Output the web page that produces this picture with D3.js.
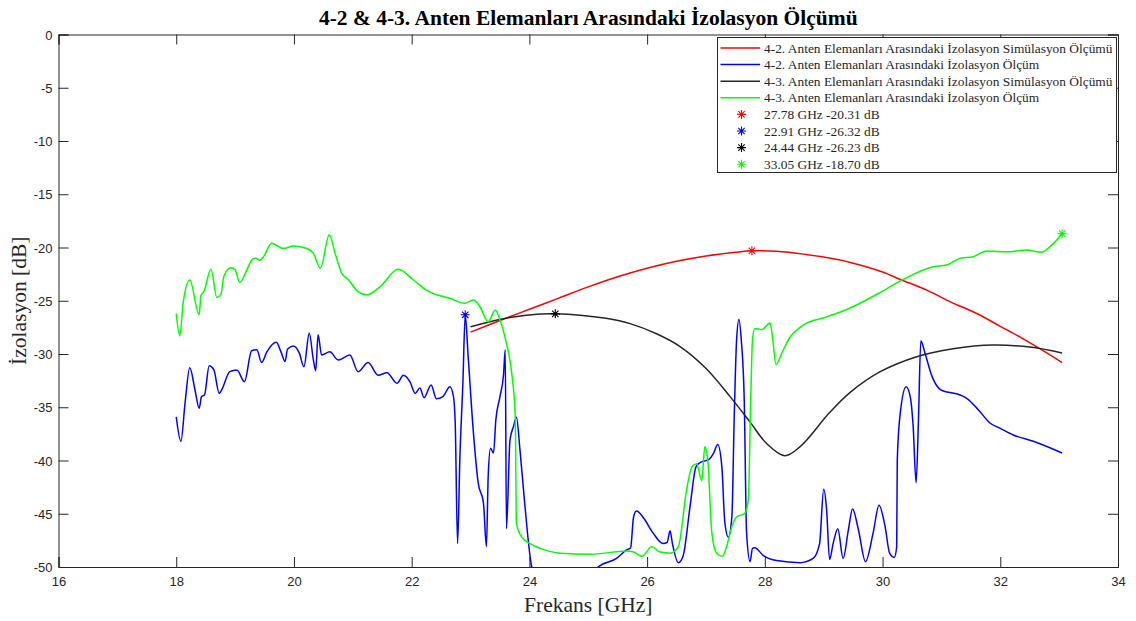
<!DOCTYPE html>
<html>
<head>
<meta charset="utf-8">
<script src="https://cdn.jsdelivr.net/npm/d3@7"></script>
<style>
  html, body { margin: 0; padding: 0; background: #fff; }
  svg { display: block; }
</style>
</head>
<body>
<svg id="chart" width="1136" height="621"></svg>
<script>
// 4-2 simulation (red)
const sim42Freq = [23.0, 23.5, 24.0, 24.5, 25.0, 25.5, 26.0, 26.5, 27.0, 27.5, 27.78, 28.2, 28.7, 29.0, 29.45, 30.0, 30.3, 30.75, 31.15, 31.6, 32.0, 32.3, 32.67, 33.05];
const sim42 = [-27.95, -26.85, -25.8, -24.75, -23.7, -22.75, -21.95, -21.3, -20.8, -20.45, -20.31, -20.35, -20.65, -20.9, -21.4, -22.3, -23.0, -24.0, -25.1, -26.2, -27.4, -28.3, -29.5, -30.8];

// 4-2 measurement (blue)
const meas42Freq = [18.00, 18.08, 18.15, 18.23, 18.32, 18.39, 18.43, 18.48, 18.56, 18.64, 18.73, 18.77, 18.91, 19.03, 19.16, 19.28, 19.37, 19.45, 19.54, 19.70, 19.78, 19.85, 19.89, 19.99, 20.09, 20.17, 20.26, 20.33, 20.37, 20.41, 20.47, 20.61, 20.75, 20.95, 21.09, 21.26, 21.43, 21.58, 21.75, 21.86, 21.97, 22.06, 22.14, 22.21, 22.33, 22.42, 22.53, 22.65, 22.71, 22.74, 22.78, 22.82, 22.87, 22.91, 22.96, 23.05, 23.13, 23.22, 23.27, 23.30, 23.34, 23.39, 23.43, 23.50, 23.56, 23.59, 23.61, 23.67, 23.73, 23.78, 23.84, 23.92, 24.04, 24.3, 24.7, 25.0, 25.17, 25.48, 25.65, 25.72, 25.77, 25.82, 25.94, 26.10, 26.27, 26.34, 26.39, 26.43, 26.53, 26.61, 26.73, 26.83, 26.90, 27.05, 27.13, 27.20, 27.27, 27.32, 27.38, 27.44, 27.48, 27.52, 27.56, 27.60, 27.65, 27.69, 27.75, 27.79, 27.83, 27.97, 28.20, 28.60, 28.82, 28.93, 29.00, 29.05, 29.10, 29.16, 29.24, 29.33, 29.42, 29.49, 29.59, 29.71, 29.84, 29.94, 30.04, 30.12, 30.20, 30.24, 30.25, 30.30, 30.40, 30.47, 30.52, 30.57, 30.61, 30.65, 30.72, 30.84, 31.00, 31.32, 31.43, 31.63, 31.83, 32.00, 32.22, 32.56, 33.05];
const meas42 = [-35.9, -38.2, -34.6, -31.3, -33.4, -35.1, -34.0, -33.85, -31.1, -31.5, -33.7, -33.4, -31.66, -31.5, -32.6, -29.7, -29.6, -30.8, -29.8, -28.9, -29.8, -30.7, -29.56, -29.25, -29.9, -31.2, -28.06, -30.56, -31.57, -28.2, -30.1, -29.8, -30.56, -30.1, -31.66, -30.8, -32.0, -31.75, -32.75, -32.0, -32.6, -33.7, -33.2, -34.1, -32.9, -34.2, -34.0, -33.07, -34.0, -36.5, -47.8, -39.6, -32.75, -26.32, -30.25, -37.45, -42.1, -44.0, -48.1, -41.5, -38.86, -39.3, -36.2, -34.0, -32.0, -29.6, -46.4, -38.1, -36.8, -35.95, -39.0, -44.0, -50.0, -53.0, -54.0, -52.0, -50.0, -49.2, -48.4, -48.2, -45.3, -44.75, -45.4, -46.8, -47.8, -47.7, -46.6, -47.8, -49.6, -49.0, -44.3, -40.6, -40.2, -39.9, -39.3, -38.5, -40.6, -45.8, -47.2, -45.3, -35.9, -28.7, -26.75, -28.7, -34.3, -46.8, -49.5, -48.25, -48.2, -48.9, -49.4, -49.6, -49.2, -47.8, -42.7, -44.65, -49.3, -47.8, -46.4, -49.2, -46.5, -44.55, -46.5, -49.5, -46.8, -44.2, -46.1, -48.7, -49.1, -48.1, -40.0, -35.6, -33.07, -34.0, -36.8, -42.1, -36.2, -28.75, -29.9, -32.1, -33.4, -33.85, -34.16, -35.26, -36.5, -36.98, -37.6, -38.2, -39.3];

// 4-3 simulation (black)
const sim43Freq = [23.0, 23.33, 23.7, 24.18, 24.44, 24.86, 25.3, 25.71, 26.16, 26.56, 27.01, 27.41, 27.75, 28.03, 28.34, 28.6, 29.1, 29.45, 29.96, 30.58, 31.2, 31.88, 32.5, 33.05];
const sim43 = [-27.44, -26.97, -26.55, -26.25, -26.23, -26.35, -26.65, -27.15, -28.1, -29.3, -31.4, -34.0, -36.4, -38.4, -39.55, -38.7, -35.5, -33.6, -31.66, -30.25, -29.5, -29.15, -29.35, -29.9];

// 4-3 measurement (green)
const meas43Freq = [18.00, 18.06, 18.12, 18.23, 18.39, 18.42, 18.47, 18.59, 18.69, 18.76, 18.81, 18.93, 19.00, 19.08, 19.20, 19.28, 19.34, 19.42, 19.48, 19.62, 19.82, 19.99, 20.22, 20.33, 20.45, 20.60, 20.70, 20.81, 20.92, 21.09, 21.24, 21.46, 21.77, 22.03, 22.26, 22.65, 22.90, 23.05, 23.16, 23.30, 23.42, 23.50, 23.61, 23.70, 23.76, 23.78, 23.87, 24.01, 24.18, 24.52, 25.03, 25.65, 25.77, 25.91, 26.08, 26.22, 26.39, 26.53, 26.67, 26.76, 26.84, 26.93, 26.98, 27.03, 27.10, 27.18, 27.28, 27.35, 27.44, 27.52, 27.66, 27.72, 27.76, 27.79, 27.83, 27.95, 28.09, 28.13, 28.19, 28.29, 28.43, 28.60, 28.71, 29.00, 29.40, 30.00, 30.35, 30.86, 31.09, 31.32, 31.54, 31.77, 32.11, 32.45, 32.70, 32.85, 33.05];
const meas43 = [-26.2, -28.3, -25.1, -23.05, -26.3, -24.5, -24.15, -22.05, -24.7, -24.4, -22.7, -21.9, -22.1, -23.3, -22.1, -21.2, -21.0, -21.2, -20.9, -19.6, -20.1, -19.86, -20.1, -20.55, -21.95, -18.8, -20.55, -22.4, -23.0, -24.15, -24.46, -23.7, -22.05, -23.05, -24.05, -24.77, -25.24, -24.93, -25.56, -26.97, -25.87, -26.8, -29.0, -31.8, -35.9, -45.9, -47.2, -47.8, -48.25, -48.7, -48.8, -48.5, -48.6, -49.0, -48.1, -48.6, -48.7, -48.1, -42.8, -40.6, -40.3, -41.9, -38.7, -39.95, -46.8, -48.7, -49.0, -48.1, -46.2, -45.3, -44.96, -43.7, -34.3, -28.7, -27.6, -27.7, -27.1, -28.4, -31.0, -29.9, -28.4, -27.5, -27.1, -26.6, -25.8, -24.1, -23.0, -21.8, -21.64, -21.0, -20.86, -20.33, -20.4, -20.24, -20.45, -19.9, -18.7];

// Marked points
const markFreq = [27.78, 22.91, 24.44, 33.05];
const markDb = [-20.31, -26.32, -26.23, -18.70];
const markColors = ["#ff0000", "#0000ff", "#000000", "#00ff00"];

const seriesNames = [
  "4-2. Anten Elemanları Arasındaki İzolasyon Simülasyon Ölçümü",
  "4-2. Anten Elemanları Arasındaki İzolasyon Ölçüm",
  "4-3. Anten Elemanları Arasındaki İzolasyon Simülasyon Ölçümü",
  "4-3. Anten Elemanları Arasındaki İzolasyon Ölçüm"
];
const seriesColors = ["#ff0000", "#0000ff", "#262626", "#00ff00"];

const xTicks = [16, 18, 20, 22, 24, 26, 28, 30, 32, 34];
const yTicks = [0, -5, -10, -15, -20, -25, -30, -35, -40, -45, -50];

const svg = d3.select("#chart");
const L = 58.5, R = 1118, T = 34.5, B = 567;
const x = d3.scaleLinear().domain([16, 34]).range([L, R]);
const y = d3.scaleLinear().domain([-50, 0]).range([B, T]);
const axisColor = "#262626";

svg.append("defs").append("clipPath").attr("id", "plotClip")
  .append("rect").attr("x", L).attr("y", T).attr("width", R - L).attr("height", B - T);

// Axes with inward ticks on all four sides
const tickFont = "'Liberation Sans', Arial, sans-serif";
const plain = d => String(d);
const gx = svg.append("g").attr("transform", `translate(0,${B})`)
  .call(d3.axisBottom(x).tickValues(xTicks).tickSize(-10).tickPadding(10).tickFormat(plain));
const gxTop = svg.append("g").attr("transform", `translate(0,${T})`)
  .call(d3.axisTop(x).tickValues(xTicks).tickSize(-10).tickFormat(""));
const gy = svg.append("g").attr("transform", `translate(${L},0)`)
  .call(d3.axisLeft(y).tickValues(yTicks).tickSize(-10).tickPadding(6).tickFormat(plain));
const gyRight = svg.append("g").attr("transform", `translate(${R},0)`)
  .call(d3.axisRight(y).tickValues(yTicks).tickSize(-10).tickFormat(""));
[gx, gxTop, gy, gyRight].forEach(g => {
  g.select(".domain").attr("stroke", axisColor).attr("stroke-width", 1);
  g.selectAll(".tick line").attr("stroke", axisColor).attr("stroke-width", 1);
  g.selectAll(".tick text").attr("fill", axisColor)
    .style("font-family", tickFont).style("font-size", "13px");
});
gy.selectAll(".tick text").attr("dy", "0.35em");

// Curves: smooth spline for simulations, monotone for measured traces
const plot = svg.append("g").attr("clip-path", "url(#plotClip)");
const smoothLine = d3.line().x(d => x(d[0])).y(d => y(d[1])).curve(d3.curveCatmullRom.alpha(0.5));
const measLine = d3.line().x(d => x(d[0])).y(d => y(d[1])).curve(d3.curveMonotoneX);
const curves = [
  [sim42Freq, sim42, smoothLine],
  [meas42Freq, meas42, measLine],
  [sim43Freq, sim43, smoothLine],
  [meas43Freq, meas43, measLine]
];
curves.forEach(([fs, vs, gen], i) => {
  plot.append("path")
    .datum(fs.map((f, k) => [f, vs[k]]))
    .attr("d", gen)
    .attr("fill", "none")
    .attr("stroke", seriesColors[i])
    .attr("stroke-width", 1.5)
    .attr("stroke-linejoin", "round");
});

// Asterisk marker path
function asterisk(r) {
  const d = r * Math.SQRT1_2;
  return `M${-r},0L${r},0M0,${-r}L0,${r}M${-d},${-d}L${d},${d}M${-d},${d}L${d},${-d}`;
}
markFreq.forEach((f, i) => {
  svg.append("path")
    .attr("transform", `translate(${x(f)},${y(markDb[i])})`)
    .attr("d", asterisk(4.5))
    .attr("stroke", markColors[i])
    .attr("stroke-width", 1.1)
    .attr("fill", "none");
});

// Legend
const serif = "'Liberation Serif', 'Times New Roman', serif";
const lg = svg.append("g");
lg.append("rect").attr("x", 717.5).attr("y", 37.5).attr("width", 399).attr("height", 135)
  .attr("fill", "#fff").attr("stroke", axisColor).attr("stroke-width", 1);
const rowY = i => 48 + i * 16.6;
seriesNames.forEach((name, i) => {
  lg.append("line").attr("x1", 720.5).attr("x2", 760).attr("y1", rowY(i)).attr("y2", rowY(i))
    .attr("stroke", seriesColors[i]).attr("stroke-width", 1.5);
  lg.append("text").attr("x", 764).attr("y", rowY(i)).attr("dy", "0.35em")
    .attr("fill", axisColor).style("font-family", serif).style("font-size", "13.4px").text(name);
});
markFreq.forEach((f, i) => {
  const yy = rowY(i + 4);
  lg.append("path").attr("transform", `translate(741.5,${yy})`).attr("d", asterisk(4.5))
    .attr("stroke", markColors[i]).attr("stroke-width", 1.1).attr("fill", "none");
  lg.append("text").attr("x", 764).attr("y", yy).attr("dy", "0.35em")
    .attr("fill", axisColor).style("font-family", serif).style("font-size", "13.4px")
    .text(`${f.toFixed(2)} GHz ${markDb[i].toFixed(2)} dB`);
});

// Title and axis labels
svg.append("text").attr("x", (L + R) / 2).attr("y", 25).attr("text-anchor", "middle")
  .style("font-family", serif).style("font-size", "21.5px").style("font-weight", "bold")
  .attr("fill", "#000").text("4-2 & 4-3. Anten Elemanları Arasındaki İzolasyon Ölçümü");
svg.append("text").attr("x", (L + R) / 2).attr("y", 612).attr("text-anchor", "middle")
  .style("font-family", serif).style("font-size", "21.5px")
  .attr("fill", axisColor).text("Frekans [GHz]");
svg.append("text").attr("transform", `translate(26,${(T + B) / 2}) rotate(-90)`)
  .attr("text-anchor", "middle")
  .style("font-family", serif).style("font-size", "21.5px")
  .attr("fill", axisColor).text("İzolasyon [dB]");
</script>
</body>
</html>
